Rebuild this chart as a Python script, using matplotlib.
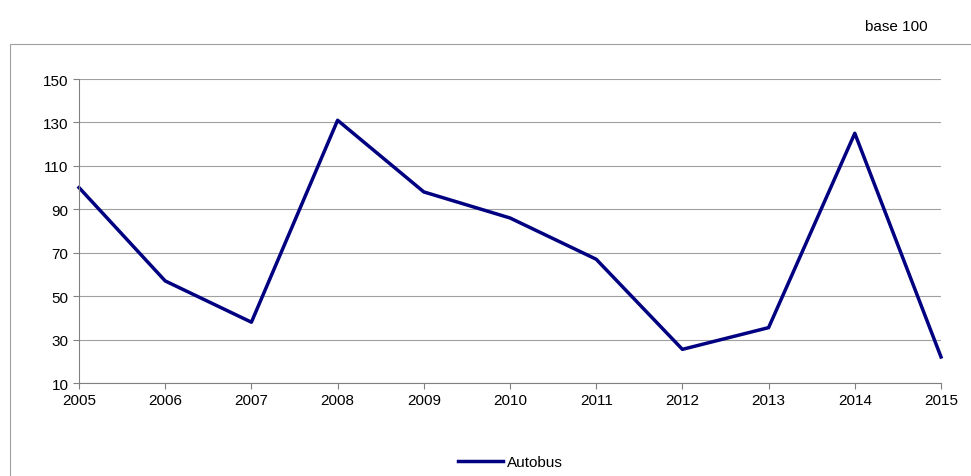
import matplotlib
matplotlib.use("Agg")
import matplotlib.pyplot as plt
from matplotlib.lines import Line2D
from matplotlib.patches import Rectangle

plt.rcParams['font.family'] = ['Liberation Sans', 'DejaVu Sans']

years = [2005, 2006, 2007, 2008, 2009, 2010, 2011, 2012, 2013, 2014, 2015]
autobus = [100, 57, 38, 131, 98, 86, 67, 25.5, 35.5, 125, 22]

fig = plt.figure(figsize=(9.71, 4.77), dpi=100)
# outer chart frame
fig.patches.append(Rectangle((10 / 971, -0.05), 1.1, 1 - 45 / 477 + 0.05,
                             transform=fig.transFigure, fill=False,
                             edgecolor='#a0a0a0', linewidth=0.8))
fig.text(928 / 971, 1 - 27 / 477, 'base 100', ha='right', va='center', fontsize=11)

ax = fig.add_axes([79 / 971, 1 - 384 / 477, (941 - 79) / 971, (384 - 80) / 477])
ax.plot(years, autobus, color='#000080', linewidth=2.5, label='Autobus', clip_on=False)
ax.set_xlim(2005, 2015)
ax.set_ylim(10, 150)
ax.set_xticks(years)
ax.set_yticks(range(10, 151, 20))
ax.yaxis.grid(True, color='#a0a0a0', linewidth=0.8)
ax.set_axisbelow(True)
for s in ['top', 'right']:
    ax.spines[s].set_visible(False)
ax.spines['left'].set_color('#808080')
ax.spines['bottom'].set_color('#808080')
ax.tick_params(labelsize=11, length=4, color='#808080')
ax.tick_params(axis='x', direction='out')

fig.legend(handles=[Line2D([], [], color='#000080', linewidth=2.5)], labels=['Autobus'],
           loc='center', bbox_to_anchor=(510 / 971, 1 - 463 / 477), frameon=False,
           fontsize=11, handlelength=3, handletextpad=0.2)

fig.savefig('out.png', dpi=100)
